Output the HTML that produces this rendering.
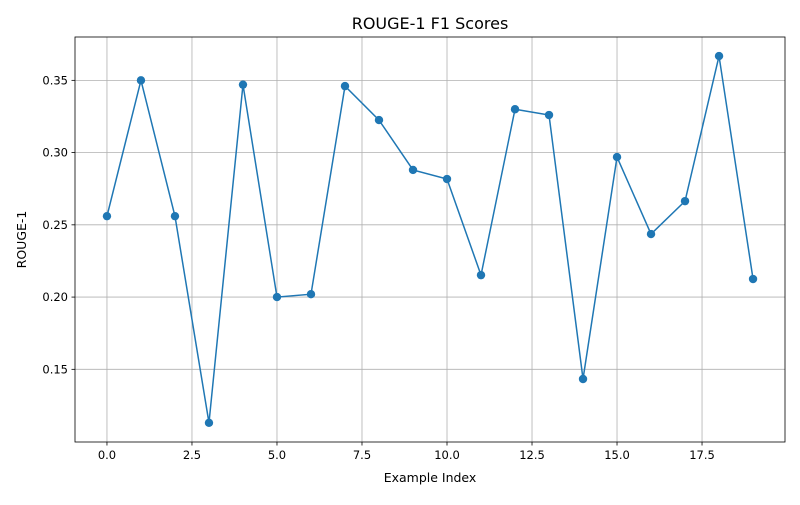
<!DOCTYPE html>
<html><head><meta charset="utf-8"><style>
body{margin:0;background:#fff;font-family:"Liberation Sans","DejaVu Sans",sans-serif}
svg text{font-family:"DejaVu Sans","Liberation Sans",sans-serif}
</style></head><body>
<svg id="chart" width="800" height="500" xmlns="http://www.w3.org/2000/svg"></svg>
<script>
const categories = [0,1,2,3,4,5,6,7,8,9,10,11,12,13,14,15,16,17,18,19];
const rougeValues = [0.256,0.350,0.256,0.113,0.347,0.200,0.202,0.346,0.3225,0.288,0.2817,0.2152,0.330,0.326,0.1433,0.2969,0.2436,0.2664,0.3668,0.2125];
const xTicks = [0,2.5,5,7.5,10,12.5,15,17.5];
const xTickLabels = ["0.0","2.5","5.0","7.5","10.0","12.5","15.0","17.5"];
const yTicks = [0.15,0.20,0.25,0.30,0.35];
const yTickLabels = ["0.15","0.20","0.25","0.30","0.35"];

const L=75,R=785,T=37,B=442;
const xMin=-0.94,xMax=19.94,yMin=0.0997,yMax=0.380;
const xs=v=>L+(v-xMin)/(xMax-xMin)*(R-L);
const ys=v=>B-(v-yMin)/(yMax-yMin)*(B-T);
const svg=document.getElementById('chart');
const NS="http://www.w3.org/2000/svg";
function mk(tag,attrs,parent){const e=document.createElementNS(NS,tag);for(const k in attrs)e.setAttribute(k,attrs[k]);(parent||svg).appendChild(e);return e;}

const grid=mk('g',{});


xTicks.forEach((t,i)=>{
  const x=xs(t);
  mk('line',{x1:x,x2:x,y1:T,y2:B,stroke:'#b0b0b0','stroke-width':0.8},grid);
  mk('line',{x1:x,x2:x,y1:B,y2:B+3.5,stroke:'#000','stroke-width':0.8});
  const tx=mk('text',{x:x,y:B+17,'font-size':11.5,'text-anchor':'middle',fill:'#000'});
  tx.textContent=xTickLabels[i];
  
  
});
yTicks.forEach((t,i)=>{
  const y=ys(t);
  mk('line',{x1:L,x2:R,y1:y,y2:y,stroke:'#b0b0b0','stroke-width':0.8},grid);
  mk('line',{x1:L-3.5,x2:L,y1:y,y2:y,stroke:'#000','stroke-width':0.8});
  const tx=mk('text',{x:L-7,y:y+4,'font-size':11.5,'text-anchor':'end',fill:'#000'});
  tx.textContent=yTickLabels[i];
  
  
});

const pts=categories.map((c,i)=>xs(c)+','+ys(rougeValues[i])).join(' ');
const line=mk('polyline',{points:pts,fill:'none',stroke:'#1f77b4','stroke-width':1.5});


categories.forEach((c,i)=>{
  const p=mk('circle',{cx:xs(c),cy:ys(rougeValues[i]),r:4.2,fill:'#1f77b4'});
  
  
});

const frame=mk('rect',{x:L,y:T,width:R-L,height:B-T,fill:'none',stroke:'#000','stroke-width':0.8});



const title=mk('text',{x:(L+R)/2,y:29,'font-size':16,'text-anchor':'middle',fill:'#000'});
title.textContent='ROUGE-1 F1 Scores';


const xl=mk('text',{x:(L+R)/2,y:482,'font-size':12.5,'text-anchor':'middle',fill:'#000'});
xl.textContent='Example Index';


const yl=mk('text',{x:0,y:0,'font-size':12.5,'text-anchor':'middle',fill:'#000',transform:'translate(26,'+((T+B)/2)+') rotate(-90)'});
yl.textContent='ROUGE-1';


</script>
</body></html>
